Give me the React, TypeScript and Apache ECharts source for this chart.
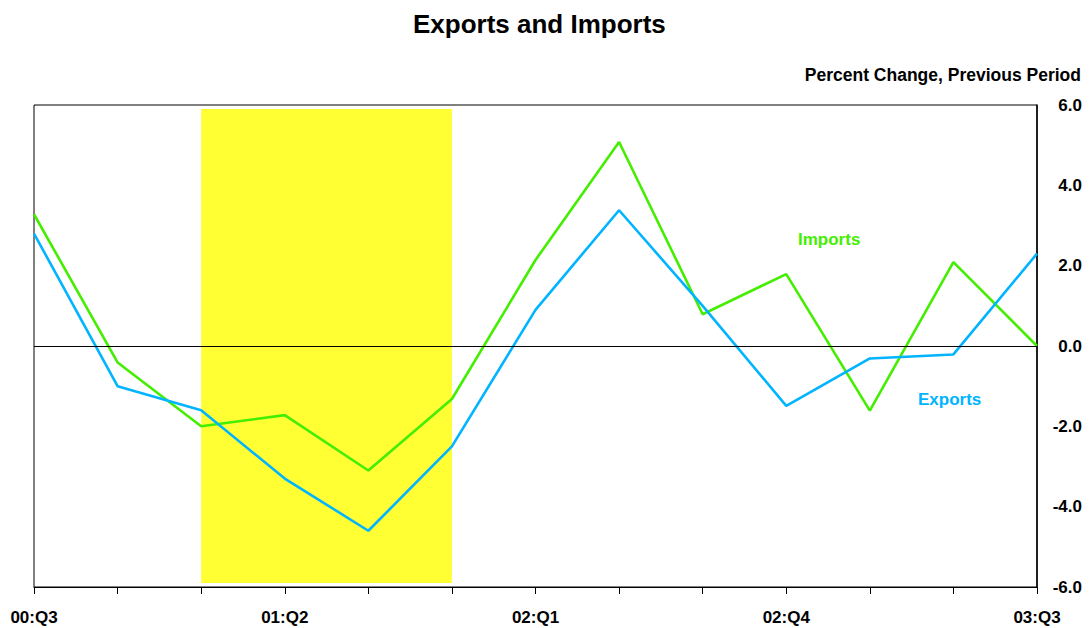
import React, { useEffect, useRef } from "react";
import * as echarts from "echarts";

// Quarterly periods on the horizontal axis
const quarters = [
  "00:Q3", "00:Q4", "01:Q1", "01:Q2", "01:Q3", "01:Q4",
  "02:Q1", "02:Q2", "02:Q3", "02:Q4", "03:Q1", "03:Q2", "03:Q3",
];

// Percent change from the previous period
const exportsPct = [2.8, -1.0, -1.6, -3.3, -4.6, -2.5, 0.9, 3.38, 1.0, -1.49, -0.31, -0.21, 2.3];
const importsPct = [3.28, -0.41, -2.0, -1.72, -3.1, -1.32, 2.14, 5.08, 0.79, 1.79, -1.61, 2.09, 0.0];

// Shaded recession period
const shadeStart = "01:Q1";
const shadeEnd = "01:Q4";
const shadeLow = -5.9;
const shadeHigh = 5.9;

// Value axis range and ticks
const yMin = -6;
const yMax = 6;
const yStep = 2;

const GREEN = "#44ee00";
const BLUE = "#00b4ff";
const YELLOW = "#ffff33";
const FONT = "Liberation Sans, Arial, Helvetica, sans-serif";

export default function App() {
  const ref = useRef<HTMLDivElement>(null);

  useEffect(() => {
    if (!ref.current) return;
    const chart = echarts.init(ref.current, null, { renderer: "svg" });
    chart.setOption({
      animation: false,
      backgroundColor: "#ffffff",
      textStyle: { fontFamily: FONT },
      title: {
        text: "Exports and Imports",
        left: 408,
        top: 6,
        textStyle: { fontFamily: FONT, fontSize: 26, fontWeight: "bold", color: "#000" },
      },
      grid: {
        left: 34,
        right: 54,
        top: 105,
        bottom: 41,
        show: true,
        borderColor: "#000",
        borderWidth: 1,
        backgroundColor: "transparent",
      },
      xAxis: {
        type: "category",
        data: quarters,
        boundaryGap: false,
        axisLine: { show: true, onZero: false, lineStyle: { color: "#000", width: 1 } },
        axisTick: { show: true, interval: 0, length: 7, lineStyle: { color: "#000" } },
        axisLabel: {
          interval: 2,
          margin: 22,
          color: "#000",
          fontFamily: FONT,
          fontSize: 17,
          fontWeight: "bold",
        },
        splitLine: { show: false },
      },
      yAxis: {
        type: "value",
        position: "right",
        min: yMin,
        max: yMax,
        interval: yStep,
        axisLine: { show: true, lineStyle: { color: "#000", width: 1.5 } },
        axisTick: { show: false },
        splitLine: { show: false },
        axisLabel: {
          align: "right",
          margin: 45,
          color: "#000",
          fontFamily: FONT,
          fontSize: 17,
          fontWeight: "bold",
          formatter: (v: number) => v.toFixed(1),
        },
      },
      series: [
        {
          name: "Imports",
          type: "line",
          data: importsPct,
          symbol: "none",
          z: 3,
          lineStyle: { color: GREEN, width: 2.6 },
          markArea: {
            silent: true,
            itemStyle: { color: YELLOW, opacity: 1 },
            data: [[{ xAxis: shadeStart, yAxis: shadeLow }, { xAxis: shadeEnd, yAxis: shadeHigh }]],
            z: 1,
          },
          markLine: {
            silent: true,
            symbol: "none",
            label: { show: false },
            lineStyle: { color: "#000", width: 1, type: "solid" },
            data: [{ yAxis: 0 }],
          },
        },
        {
          name: "Exports",
          type: "line",
          data: exportsPct,
          symbol: "none",
          z: 4,
          lineStyle: { color: BLUE, width: 2.6 },
        },
      ],
      graphic: [
        {
          type: "text",
          right: 10,
          top: 66,
          style: {
            text: "Percent Change, Previous Period",
            fill: "#000",
            font: `bold 17.5px ${FONT}`,
          },
        },
        {
          type: "text",
          x: 798,
          y: 239,
          style: {
            text: "Imports",
            fill: GREEN,
            font: `bold 17px ${FONT}`,
            verticalAlign: "middle",
          },
        },
        {
          type: "text",
          x: 918,
          y: 399,
          style: {
            text: "Exports",
            fill: BLUE,
            font: `bold 17px ${FONT}`,
            verticalAlign: "middle",
          },
        },
      ],
    });
    return () => chart.dispose();
  }, []);

  return (
    <div
      ref={ref}
      style={{ position: "absolute", left: 0, top: 0, width: 1091, height: 628 }}
    />
  );
}
